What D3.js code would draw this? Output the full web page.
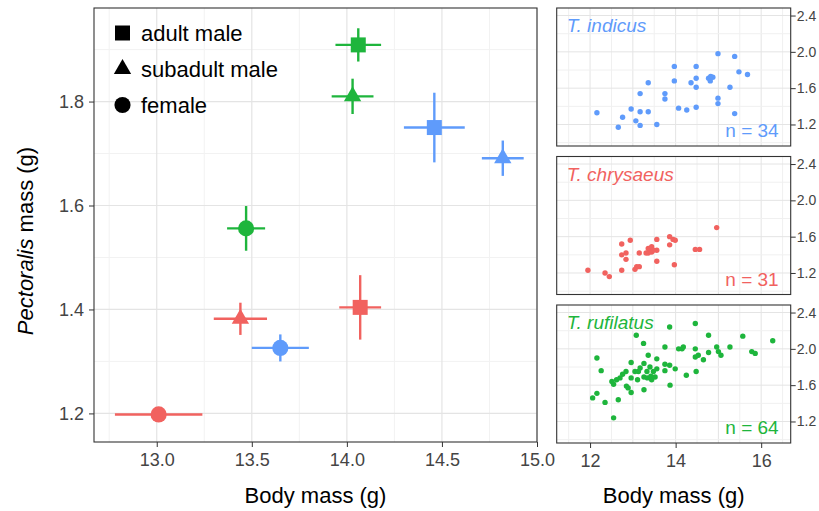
<!DOCTYPE html>
<html>
<head>
<meta charset="utf-8">
<script src="https://cdn.jsdelivr.net/npm/d3@7"></script>
<style>
  html, body { margin: 0; padding: 0; background: #fff; }
  svg { display: block; font-family: "Liberation Sans", Arial, sans-serif; }
</style>
</head>
<body>
<svg id="chart" width="819" height="511"></svg>
<script>
// ---- Group means (main panel) ----
const meanSpecies = ["T. rufilatus", "T. rufilatus", "T. rufilatus",
                     "T. indicus", "T. indicus", "T. indicus",
                     "T. chrysaeus", "T. chrysaeus", "T. chrysaeus"];
const meanGroup   = ["adult male", "subadult male", "female",
                     "adult male", "subadult male", "female",
                     "adult male", "subadult male", "female"];
const meanBody    = [14.06, 14.03, 13.47, 14.46, 14.82, 13.65, 14.07, 13.44, 13.01];
const bodyErr     = [0.12, 0.11, 0.10, 0.16, 0.11, 0.15, 0.11, 0.14, 0.23];
const meanPec     = [1.909, 1.810, 1.556, 1.750, 1.691, 1.326, 1.404, 1.382, 1.198];
const pecErr      = [0.032, 0.034, 0.043, 0.067, 0.034, 0.026, 0.062, 0.031, 0.012];

const groupOrder = ["adult male", "subadult male", "female"];
const mainXTicks = [13.0, 13.5, 14.0, 14.5, 15.0];
const mainYTicks = [1.2, 1.4, 1.6, 1.8];

// ---- Individual birds (small panels) ----
const indicusBody = [12.16, 12.66, 12.76, 12.96, 13.07, 13.17, 13.17, 13.17, 13.36, 13.36,
                     13.56, 13.75, 13.75, 13.97, 13.97, 14.07, 14.26, 14.36, 14.48, 14.48,
                     14.48, 14.48, 14.77, 14.81, 14.87, 14.99, 14.99, 14.99, 15.27, 15.38,
                     15.38, 15.48, 15.68, 14.82];
const indicusPec  = [1.33, 1.17, 1.28, 1.37, 1.24, 1.54, 1.34, 1.19, 1.66, 1.34,
                     1.20, 1.54, 1.48, 1.84, 1.68, 1.38, 1.36, 1.66, 1.84, 1.71,
                     1.61, 1.39, 1.71, 1.68, 1.72, 1.98, 1.49, 1.43, 1.61, 1.95,
                     1.32, 1.78, 1.75, 1.73];

const chrysaeusBody = [11.95, 12.35, 12.45, 12.74, 12.74, 12.74, 12.84, 12.84, 12.94, 13.05,
                       13.09, 13.15, 13.15, 13.36, 13.36, 13.40, 13.44, 13.44, 13.48, 13.56,
                       13.56, 13.56, 13.86, 13.86, 13.94, 13.99, 13.97, 14.46, 14.56, 14.96,
                       13.31];
const chrysaeusPec  = [1.23, 1.20, 1.16, 1.52, 1.40, 1.23, 1.42, 1.35, 1.56, 1.24,
                       1.27, 1.42, 1.27, 1.47, 1.42, 1.46, 1.43, 1.49, 1.45, 1.57,
                       1.45, 1.33, 1.60, 1.51, 1.57, 1.56, 1.29, 1.46, 1.46, 1.70,
                       1.42];

const rufilatusBody = [12.06, 12.16, 12.16, 12.26, 12.35, 12.55, 12.55, 12.51, 12.66, 12.62,
                       12.70, 12.76, 12.84, 12.85, 12.89, 12.96, 12.96, 12.96, 13.05, 13.08,
                       13.11, 13.13, 13.17, 13.25, 13.26, 13.26, 13.26, 13.33, 13.34, 13.36,
                       13.40, 13.42, 13.44, 13.48, 13.52, 13.56, 13.56, 13.75, 13.75, 13.75,
                       13.86, 13.86, 13.87, 13.99, 14.07, 14.15, 14.18, 14.25, 14.46, 14.46,
                       14.46, 14.48, 14.53, 14.65, 14.77, 14.77, 14.96, 15.00, 15.06, 15.27,
                       15.57, 15.78, 15.86, 16.27];
const rufilatusPec  = [1.46, 1.51, 1.90, 1.76, 1.41, 1.24, 1.61, 1.64, 1.44, 1.66,
                       1.68, 1.72, 1.75, 1.59, 1.57, 1.85, 1.68, 1.52, 1.75, 2.15,
                       1.66, 1.75, 1.79, 2.06, 1.84, 1.69, 1.55, 1.75, 1.68, 1.93,
                       1.80, 1.70, 1.66, 1.75, 1.69, 1.89, 1.78, 2.02, 1.83, 1.76,
                       2.24, 1.82, 1.60, 1.78, 2.00, 2.00, 2.02, 1.71, 2.28, 2.00,
                       1.91, 1.75, 1.93, 1.88, 2.15, 1.96, 2.02, 1.97, 1.93, 2.02,
                       2.14, 1.97, 1.95, 2.09];

const smallXTicks = [12, 14, 16];
const smallYTicks = [1.2, 1.6, 2.0, 2.4];

const speciesColor = {
  "T. indicus": "#5f9bfb",
  "T. chrysaeus": "#f1625f",
  "T. rufilatus": "#1eb53c"
};
const groupSymbol = {
  "adult male": d3.symbolSquare,
  "subadult male": d3.symbolTriangle,
  "female": d3.symbolCircle
};
const groupSize = { "adult male": 225, "subadult male": 130, "female": 205 };

const svg = d3.select("#chart");
const tickColor = "#444";
const borderColor = "#333";

// ---------------- Main panel ----------------
const main = { left: 94, right: 537, top: 8, bottom: 442 };
const x = d3.scaleLinear().domain([12.67, 15.0]).range([main.left, main.right]);
const y = d3.scaleLinear().domain([1.145, 1.980]).range([main.bottom, main.top]);

const gMain = svg.append("g");

// minor + major grid
const xMinor = d3.range(12.75, 15.0, 0.5);
const yMinor = d3.range(1.3, 1.99, 0.2);
gMain.selectAll(".xminor").data(xMinor).join("line")
  .attr("x1", d => x(d)).attr("x2", d => x(d))
  .attr("y1", main.top).attr("y2", main.bottom)
  .attr("stroke", "#f2f2f2").attr("stroke-width", 1);
gMain.selectAll(".yminor").data(yMinor).join("line")
  .attr("y1", d => y(d)).attr("y2", d => y(d))
  .attr("x1", main.left).attr("x2", main.right)
  .attr("stroke", "#f2f2f2").attr("stroke-width", 1);
gMain.selectAll(".xmajor").data(mainXTicks).join("line")
  .attr("x1", d => x(d)).attr("x2", d => x(d))
  .attr("y1", main.top).attr("y2", main.bottom)
  .attr("stroke", "#e4e4e4").attr("stroke-width", 1.2);
gMain.selectAll(".ymajor").data(mainYTicks).join("line")
  .attr("y1", d => y(d)).attr("y2", d => y(d))
  .attr("x1", main.left).attr("x2", main.right)
  .attr("stroke", "#e4e4e4").attr("stroke-width", 1.2);

// axes
const xAxisMain = gMain.append("g")
  .attr("transform", `translate(0,${main.bottom})`)
  .call(d3.axisBottom(x).tickValues(mainXTicks).tickFormat(d3.format(".1f"))
        .tickSize(5).tickPadding(6));
const yAxisMain = gMain.append("g")
  .attr("transform", `translate(${main.left},0)`)
  .call(d3.axisLeft(y).tickValues(mainYTicks).tickFormat(d3.format(".1f"))
        .tickSize(5).tickPadding(5));
[xAxisMain, yAxisMain].forEach(a => {
  a.select(".domain").remove();
  a.selectAll(".tick line").attr("stroke", borderColor);
  a.selectAll(".tick text").attr("fill", tickColor)
    .style("font-size", "18px").style("font-family", "Liberation Sans, Arial, sans-serif");
});

gMain.append("rect")
  .attr("x", main.left).attr("y", main.top)
  .attr("width", main.right - main.left).attr("height", main.bottom - main.top)
  .attr("fill", "none").attr("stroke", borderColor).attr("stroke-width", 1.1);

// error bars
const meanRows = meanBody.map((b, i) => ({
  species: meanSpecies[i], group: meanGroup[i],
  body: b, bErr: bodyErr[i], pec: meanPec[i], pErr: pecErr[i]
}));
gMain.selectAll(".hbar").data(meanRows).join("line")
  .attr("x1", d => x(d.body - d.bErr)).attr("x2", d => x(d.body + d.bErr))
  .attr("y1", d => y(d.pec)).attr("y2", d => y(d.pec))
  .attr("stroke", d => speciesColor[d.species]).attr("stroke-width", 2.4);
gMain.selectAll(".vbar").data(meanRows).join("line")
  .attr("x1", d => x(d.body)).attr("x2", d => x(d.body))
  .attr("y1", d => y(d.pec - d.pErr)).attr("y2", d => y(d.pec + d.pErr))
  .attr("stroke", d => speciesColor[d.species]).attr("stroke-width", 2.4);

// mean points
gMain.selectAll(".mean").data(meanRows).join("path")
  .attr("transform", d => `translate(${x(d.body)},${y(d.pec)})`)
  .attr("d", d => d3.symbol(groupSymbol[d.group], groupSize[d.group])())
  .attr("fill", d => speciesColor[d.species]);

// legend
const legend = gMain.append("g");
groupOrder.forEach((g, i) => {
  const cy = 33 + i * 36;
  legend.append("path")
    .attr("transform", `translate(122.5,${cy})`)
    .attr("d", d3.symbol(groupSymbol[g], groupSize[g])())
    .attr("fill", "#000");
  legend.append("text")
    .attr("x", 141).attr("y", cy + 7.5)
    .style("font-size", "22px").attr("fill", "#000")
    .text(g);
});

// axis titles
svg.append("text")
  .attr("x", (main.left + main.right) / 2).attr("y", 503)
  .attr("text-anchor", "middle").style("font-size", "22px")
  .text("Body mass (g)");
const yTitle = svg.append("text")
  .attr("transform", "translate(33,241) rotate(-90)")
  .attr("text-anchor", "middle").style("font-size", "22px");
yTitle.append("tspan").style("font-style", "italic").text("Pectoralis");
yTitle.append("tspan").text(" mass (g)");

// ---------------- Small panels ----------------
const small = { left: 556.7, right: 790.7, height: 138 };
const sx = d3.scaleLinear().domain([11.22, 16.69]).range([small.left, small.right]);
const panels = [
  { name: "T. indicus", top: 8, body: indicusBody, pec: indicusPec },
  { name: "T. chrysaeus", top: 156.5, body: chrysaeusBody, pec: chrysaeusPec },
  { name: "T. rufilatus", top: 305, body: rufilatusBody, pec: rufilatusPec }
];

panels.forEach((p, pi) => {
  const bottom = p.top + small.height;
  const sy = d3.scaleLinear().domain([0.963, 2.483]).range([bottom, p.top]);
  const g = svg.append("g");
  const col = speciesColor[p.name];

  const xm = d3.range(11.5, 16.6, 0.5);
  const ym = d3.range(1.0, 2.45, 0.2);
  g.selectAll(".vx").data(xm).join("line")
    .attr("x1", d => sx(d)).attr("x2", d => sx(d))
    .attr("y1", p.top).attr("y2", bottom)
    .attr("stroke", d => Math.abs(d % 1) < 1e-6 ? "#e4e4e4" : "#f0f0f0").attr("stroke-width", 1);
  g.selectAll(".hy").data(ym).join("line")
    .attr("y1", d => sy(d)).attr("y2", d => sy(d))
    .attr("x1", small.left).attr("x2", small.right)
    .attr("stroke", (d, i) => i % 2 === 1 ? "#e4e4e4" : "#f0f0f0").attr("stroke-width", 1);

  const ya = g.append("g")
    .attr("transform", `translate(${small.right},0)`)
    .call(d3.axisRight(sy).tickValues(smallYTicks).tickFormat(d3.format(".1f"))
          .tickSize(5).tickPadding(1));
  ya.select(".domain").remove();
  ya.selectAll(".tick line").attr("stroke", borderColor);
  ya.selectAll(".tick text").attr("fill", tickColor)
    .style("font-size", "14px").style("font-family", "Liberation Sans, Arial, sans-serif");

  if (pi === panels.length - 1) {
    const xa = g.append("g")
      .attr("transform", `translate(0,${bottom})`)
      .call(d3.axisBottom(sx).tickValues(smallXTicks).tickFormat(d3.format("d"))
            .tickSize(5).tickPadding(6));
    xa.select(".domain").remove();
    xa.selectAll(".tick line").attr("stroke", borderColor);
    xa.selectAll(".tick text").attr("fill", tickColor)
      .style("font-size", "18px").style("font-family", "Liberation Sans, Arial, sans-serif");
  }

  g.append("rect")
    .attr("x", small.left).attr("y", p.top)
    .attr("width", small.right - small.left).attr("height", small.height)
    .attr("fill", "none").attr("stroke", borderColor).attr("stroke-width", 1.1);

  g.selectAll(".pt").data(p.body.map((b, i) => [b, p.pec[i]])).join("circle")
    .attr("cx", d => sx(d[0])).attr("cy", d => sy(d[1]))
    .attr("r", 2.7).attr("fill", col);

  g.append("text")
    .attr("x", small.left + 10).attr("y", p.top + 24)
    .style("font-size", "19px").style("font-style", "italic")
    .attr("fill", col).text(p.name);
  g.append("text")
    .attr("x", small.right - 12).attr("y", bottom - 9)
    .attr("text-anchor", "end").style("font-size", "19px")
    .attr("fill", col).text(`n = ${p.body.length}`);
});

svg.append("text")
  .attr("x", (small.left + small.right) / 2).attr("y", 503)
  .attr("text-anchor", "middle").style("font-size", "22px")
  .text("Body mass (g)");
</script>
</body>
</html>
